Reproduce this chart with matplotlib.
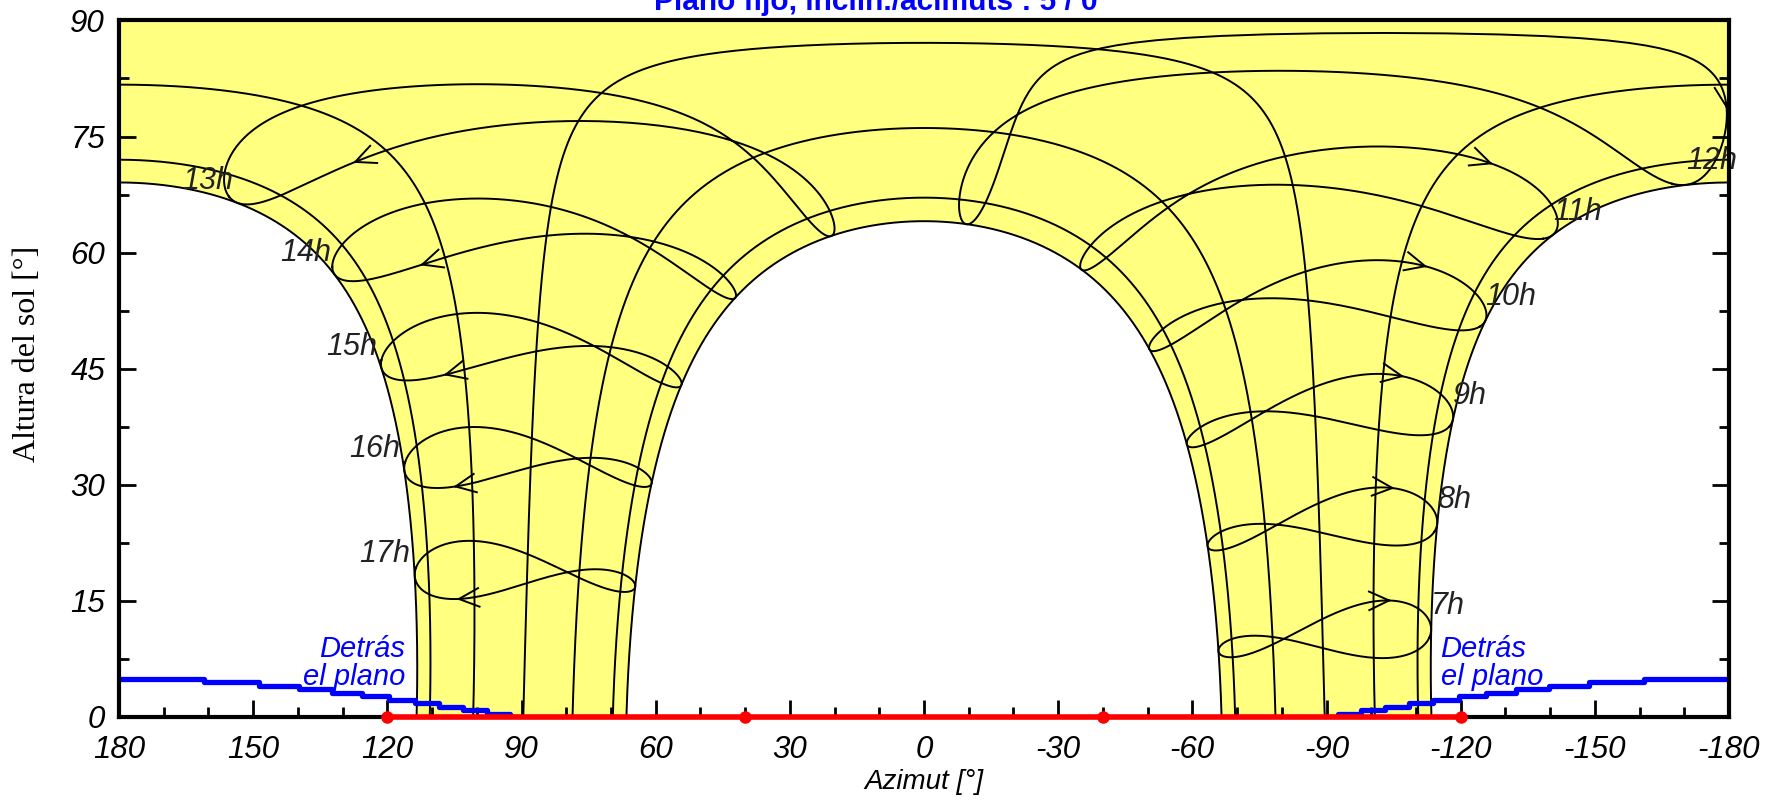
import numpy as np
import matplotlib.pyplot as plt
from matplotlib.ticker import MultipleLocator

plt.rcParams["font.family"] = ["Liberation Sans", "DejaVu Sans"]
plt.rcParams["axes.unicode_minus"] = False

# site and plane
LAT = -2.5           # southern site: noon altitude ~69 deg (december, north side = az 0 ... 180) / ~64 deg (june)
TILT = 5             # "Plano fijo, inclin./acimuts : 5 / 0"
PLANE_AZ = 0
LEGAL_AHEAD = 0.28   # legal time ahead of solar time [h]

# the seven date curves (22 jun, 22 may, 20 apr, 20 mar, 21 feb, 19 jan, 22 dec) as declinations
DATE_DECL = [23.44, 20.4, 11.4, 0.4, -10.8, -20.5, -23.44]
# hour lines, legal time
HOURS = [7, 8, 9, 10, 11, 12, 13, 14, 15, 16, 17]
HOUR_LABELS = ["7h", "8h", "9h", "10h", "11h", "12h", "13h", "14h", "15h", "16h", "17h"]
LABEL_DAY = 355
ARROW_DAY = 300
# horizon profile
HORIZON_AZ = [120, 40, -40, -120]
HORIZON_ALT = [0, 0, 0, 0]

YELLOW = "#ffff80"
BLUE = "#0000ff"


def sun(decl, h):
    # azimuth measured from the equator direction (positive west) and altitude, degrees
    phi, d, hr = np.radians(LAT), np.radians(decl), np.radians(h)
    alt = np.arcsin(np.sin(phi) * np.sin(d) + np.cos(phi) * np.cos(d) * np.cos(hr))
    az = np.degrees(np.arctan2(np.sin(hr) * np.cos(d),
                               np.cos(hr) * np.cos(d) * np.sin(phi) - np.sin(d) * np.cos(phi)))
    if LAT < 0:
        az = 180 - az
        az = np.where(az > 180, az - 360, az)
    return az, np.degrees(alt)


def split_wrap(az, alt):
    az = np.asarray(az, float)
    alt = np.asarray(alt, float)
    jumps = np.where(np.abs(np.diff(az)) > 180)[0] + 1
    return np.insert(az, jumps, np.nan), np.insert(alt, jumps, np.nan)


def half_day(decl):
    return np.degrees(np.arccos(-np.tan(np.radians(LAT)) * np.tan(np.radians(decl))))


fig = plt.figure(figsize=(17.78, 8.06), dpi=100)
ax = fig.add_axes([119 / 1778, 89 / 806, 1610 / 1778, 696.6 / 806])
ax.set_xlim(180, -180)
ax.set_ylim(0, 90)

# yellow area reachable by the sun: outside the june curve, inside the december one
outer, inner = DATE_DECL[-1], DATE_DECL[0]
hs_o = half_day(outer)
hs_i = half_day(inner)
az_pm, alt_pm = sun(outer, np.linspace(hs_o, 1e-6, 400))
az_am, alt_am = sun(outer, np.linspace(-1e-6, -hs_o, 400))
az_in, alt_in = sun(inner, np.linspace(-hs_i, hs_i, 800))
poly_az = np.concatenate([az_pm, [180, -180], az_am, az_in])
poly_alt = np.concatenate([alt_pm, [90, 90], alt_am, alt_in])
ax.fill(poly_az, poly_alt, color=YELLOW, lw=0, zorder=0)

# date curves
for decl in DATE_DECL:
    hs = half_day(decl)
    az, alt = sun(decl, np.linspace(-hs, hs, 1200))
    az, alt = split_wrap(az, alt)
    ax.plot(az, alt, color="black", lw=1.4, zorder=2)

# hour lines (analemmas over the year)
days = np.arange(1, 367)
B = 2 * np.pi * (days - 1) / 365
decl_y = np.degrees(0.006918 - 0.399912 * np.cos(B) + 0.070257 * np.sin(B)
                    - 0.006758 * np.cos(2 * B) + 0.000907 * np.sin(2 * B)
                    - 0.002697 * np.cos(3 * B) + 0.00148 * np.sin(3 * B))
eot = 229.18 * (0.000075 + 0.001868 * np.cos(B) - 0.032077 * np.sin(B)
                - 0.014615 * np.cos(2 * B) - 0.04089 * np.sin(2 * B))

trans = ax.transData
inv = trans.inverted()
for hour, lab in zip(HOURS, HOUR_LABELS):
    h = 15 * (hour - LEGAL_AHEAD + eot / 60 - 12)
    az, alt = sun(decl_y, h)
    paz, palt = split_wrap(az, alt)
    ax.plot(paz, palt, color="black", lw=1.4, zorder=2)

    # direction arrow
    i = ARROW_DAY
    p0 = trans.transform((az[i], alt[i]))
    p1 = trans.transform((az[i + 3], alt[i + 3]))
    d = (p1 - p0) / np.hypot(*(p1 - p0))
    tip = p0 + d * 6
    for ang in (25, -25):
        a = np.radians(ang)
        back = -np.array([d[0] * np.cos(a) - d[1] * np.sin(a), d[0] * np.sin(a) + d[1] * np.cos(a)])
        q = inv.transform([tip, tip + back * 22])
        ax.plot(q[:, 0], q[:, 1], color="black", lw=1.4, zorder=3)

    # label beside the december solstice point (outer edge)
    j = LABEL_DAY
    if az[j] > 0:
        ax.annotate(lab, (az[j], alt[j]), xytext=(-3, 5), textcoords="offset points",
                    ha="right", va="bottom", fontsize=22, style="italic", color="#222222", zorder=4)
    else:
        ax.annotate(lab, (az[j], alt[j]), xytext=(0, 6), textcoords="offset points",
                    ha="left", va="bottom", fontsize=22, style="italic", color="#222222", zorder=4,
                    annotation_clip=False)

# sun behind the plane (stepped as on the original raster)
for side in (np.linspace(90, 180, 400), np.linspace(-180, -90, 400)):
    behind = np.degrees(np.arctan(-np.tan(np.radians(TILT)) * np.cos(np.radians(side - PLANE_AZ))))
    behind = np.round(behind / 0.45) * 0.45
    ax.plot(side, behind, color=BLUE, lw=3.8, drawstyle="steps-mid", zorder=3)
ax.text(116, 7, "Detrás\nel plano", ha="right", va="center", multialignment="right",
        fontsize=21, style="italic", color=BLUE, linespacing=1.0, zorder=4)
ax.text(-115.5, 7, "Detrás\nel plano", ha="left", va="center", multialignment="left",
        fontsize=21, style="italic", color=BLUE, linespacing=1.0, zorder=4)

# horizon
ax.plot(HORIZON_AZ, HORIZON_ALT, color="red", lw=4, marker="o", ms=8, clip_on=False, zorder=6)

# axes styling
ax.xaxis.set_major_locator(MultipleLocator(30))
ax.xaxis.set_minor_locator(MultipleLocator(10))
ax.yaxis.set_major_locator(MultipleLocator(15))
ax.yaxis.set_minor_locator(MultipleLocator(7.5))
ax.tick_params(which="both", direction="in", right=True, top=False, width=2, color="black")
ax.tick_params(which="major", length=12, labelsize=22.5)
ax.tick_params(axis="x", which="major", pad=13)
ax.tick_params(axis="y", which="major", pad=10)
ax.tick_params(which="minor", length=7)
for t in ax.get_xticklabels() + ax.get_yticklabels():
    t.set_fontstyle("italic")
for s in ax.spines.values():
    s.set_linewidth(3)
    s.set_zorder(5)

fig.text(876 / 1778, 1 - 10 / 806, "Plano fijo, inclin./acimuts : 5 / 0", ha="center", va="baseline",
         fontsize=21.5, fontweight="bold", color=BLUE)
fig.text(924 / 1778, 1 - 782 / 806, "Azimut [°]", ha="center", va="center", fontsize=20, style="italic")
fig.text(28 / 1778, 1 - 354 / 806, "Altura del sol [°]", ha="center", va="center", rotation=90,
         fontsize=23, family="Liberation Serif")

fig.savefig("out.png", dpi=100)
